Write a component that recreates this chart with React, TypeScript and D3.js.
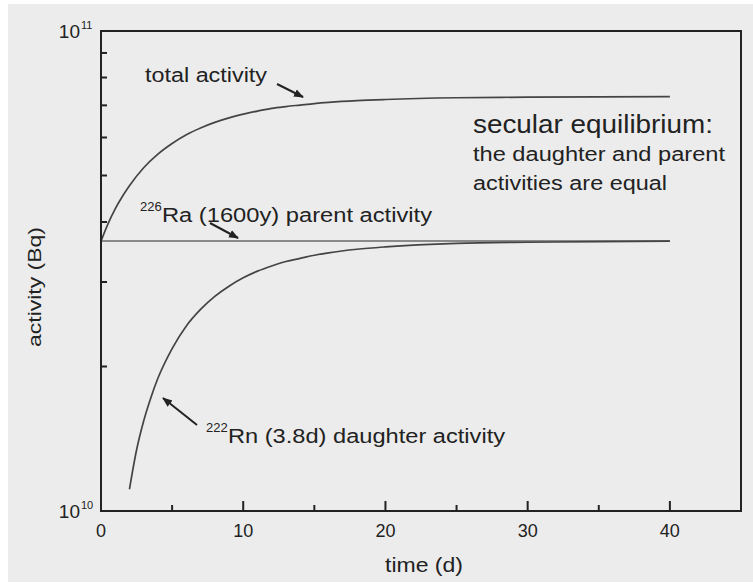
import * as d3 from 'd3';

// time (d) and activity (units of 1e10 Bq)
const TOTAL_T = [0, 0.5, 1, 1.5, 2, 3, 4, 5, 6, 7, 8, 9, 10, 11, 12, 13, 14, 15, 16, 18, 20, 25, 30, 35, 40];
const TOTAL_A = [3.65, 3.97, 4.26, 4.52, 4.76, 5.19, 5.54, 5.83, 6.08, 6.28, 6.45, 6.59, 6.71, 6.81, 6.9, 6.96, 7.01, 7.06, 7.1, 7.16, 7.2, 7.26, 7.28, 7.29, 7.3];
const DAUGHTER_T = [2, 2.5, 3, 3.5, 4, 5, 6, 7, 8, 9, 10, 11, 12, 13, 14, 15, 16, 18, 20, 25, 30, 35, 40];
const DAUGHTER_A = [1.11, 1.34, 1.54, 1.72, 1.89, 2.18, 2.43, 2.63, 2.8, 2.94, 3.06, 3.16, 3.24, 3.31, 3.36, 3.41, 3.45, 3.51, 3.55, 3.61, 3.63, 3.64, 3.65];
const PARENT_T = [0, 40];
const PARENT_A = [3.65, 3.65];

const X_MAJOR = [0, 10, 20, 30, 40];
const X_MINOR = [5, 15, 25, 35, 45];
const Y_MINOR = [2, 3, 4, 5, 6, 7, 8, 9];

const W = 753;
const H = 586;
const margin = { left: 101, right: 12, top: 31, bottom: 75 };
const FONT = '"Liberation Sans", Arial, sans-serif';
const INK = '#222';

const x = d3.scaleLinear().domain([0, 45]).range([margin.left, W - margin.right]);
const y = d3.scaleLog().domain([1e10, 1e11]).range([H - margin.bottom, margin.top]);

const toPts = (ts: number[], as: number[]) => ts.map((t, i) => [t, as[i] * 1e10] as [number, number]);

const line = d3
  .line<[number, number]>()
  .x(d => x(d[0]))
  .y(d => y(d[1]))
  .curve(d3.curveMonotoneX);

function Arrow({ x1, y1, x2, y2 }: { x1: number; y1: number; x2: number; y2: number }) {
  return <line x1={x1} y1={y1} x2={x2} y2={y2} stroke={INK} strokeWidth={2} markerEnd="url(#head)" />;
}

export default function App() {
  const x0 = x(0);
  const x1 = x(45);
  const yB = y(1e10);
  const yT = y(1e11);

  return (
    <svg width={W} height={H} style={{ position: 'absolute', left: 0, top: 0 }} fontFamily={FONT}>
      <defs>
        <marker id="head" viewBox="0 0 10 10" refX="9" refY="5" markerWidth="5" markerHeight="5" orient="auto">
          <path d="M0,1 L10,5 L0,9 z" fill={INK} />
        </marker>
      </defs>
      <rect width={W} height={H} fill="#fff" />
      <rect x={8} y={4} width={W - 8} height={578} fill="#ececec" />

      {/* curves */}
      <path d={line(toPts(PARENT_T, PARENT_A)) || ''} fill="none" stroke="#8a8a8a" strokeWidth={2} />
      <path d={line(toPts(TOTAL_T, TOTAL_A)) || ''} fill="none" stroke="#444" strokeWidth={1.7} />
      <path d={line(toPts(DAUGHTER_T, DAUGHTER_A)) || ''} fill="none" stroke="#444" strokeWidth={1.7} />

      {/* frame */}
      <rect x={x0} y={yT} width={x1 - x0} height={yB - yT} fill="none" stroke={INK} strokeWidth={2} />

      {/* x ticks */}
      {X_MAJOR.map(t => (
        <g key={'xm' + t}>
          <line x1={x(t)} x2={x(t)} y1={yB} y2={yB - 10} stroke={INK} strokeWidth={2} />
          <text x={x(t)} y={537} textAnchor="middle" fontSize={18} fill={INK}>
            {t}
          </text>
        </g>
      ))}
      {X_MINOR.map(t => (
        <line key={'xn' + t} x1={x(t)} x2={x(t)} y1={yB} y2={yB - 6} stroke={INK} strokeWidth={2} />
      ))}

      {/* y ticks */}
      {Y_MINOR.map(v => (
        <line key={'yn' + v} x1={x0} x2={x0 + 6} y1={y(v * 1e10)} y2={y(v * 1e10)} stroke={INK} strokeWidth={2} />
      ))}
      <text x={80} y={yT + 7} textAnchor="end" fontSize={19} fill={INK}>10</text>
      <text x={81} y={yT - 2} fontSize={11} fill={INK}>11</text>
      <text x={80} y={yB + 7} textAnchor="end" fontSize={19} fill={INK}>10</text>
      <text x={81} y={yB - 2} fontSize={11} fill={INK}>10</text>

      {/* axis titles */}
      <text x={424} y={572} textAnchor="middle" fontSize={20} fill={INK} textLength={78} lengthAdjust="spacingAndGlyphs">
        time (d)
      </text>
      <text
        transform={`translate(41,${(yT + yB) / 2 + 16}) rotate(-90)`}
        textAnchor="middle"
        fontSize={19}
        fill={INK}
        textLength={120}
        lengthAdjust="spacingAndGlyphs"
      >
        activity (Bq)
      </text>

      {/* annotations */}
      <text x={145} y={82} fontSize={20} fill={INK} textLength={122} lengthAdjust="spacingAndGlyphs">
        total activity
      </text>
      <Arrow x1={277} y1={84} x2={303} y2={97} />

      <text x={140} y={211} fontSize={13} fill={INK}>226</text>
      <text x={162} y={222} fontSize={20} fill={INK} textLength={270} lengthAdjust="spacingAndGlyphs">
        Ra (1600y) parent activity
      </text>
      <Arrow x1={210} y1={223} x2={238} y2={238} />

      <text x={206} y={432} fontSize={13} fill={INK}>222</text>
      <text x={228} y={443} fontSize={20} fill={INK} textLength={277} lengthAdjust="spacingAndGlyphs">
        Rn (3.8d) daughter activity
      </text>
      <Arrow x1={197} y1={425} x2={163} y2={398} />

      <text x={473} y={133} fontSize={26} fill={INK} textLength={240} lengthAdjust="spacingAndGlyphs">
        secular equilibrium:
      </text>
      <text x={473} y={161} fontSize={20} fill={INK} textLength={252} lengthAdjust="spacingAndGlyphs">
        the daughter and parent
      </text>
      <text x={473} y={190} fontSize={20} fill={INK} textLength={194} lengthAdjust="spacingAndGlyphs">
        activities are equal
      </text>
    </svg>
  );
}
